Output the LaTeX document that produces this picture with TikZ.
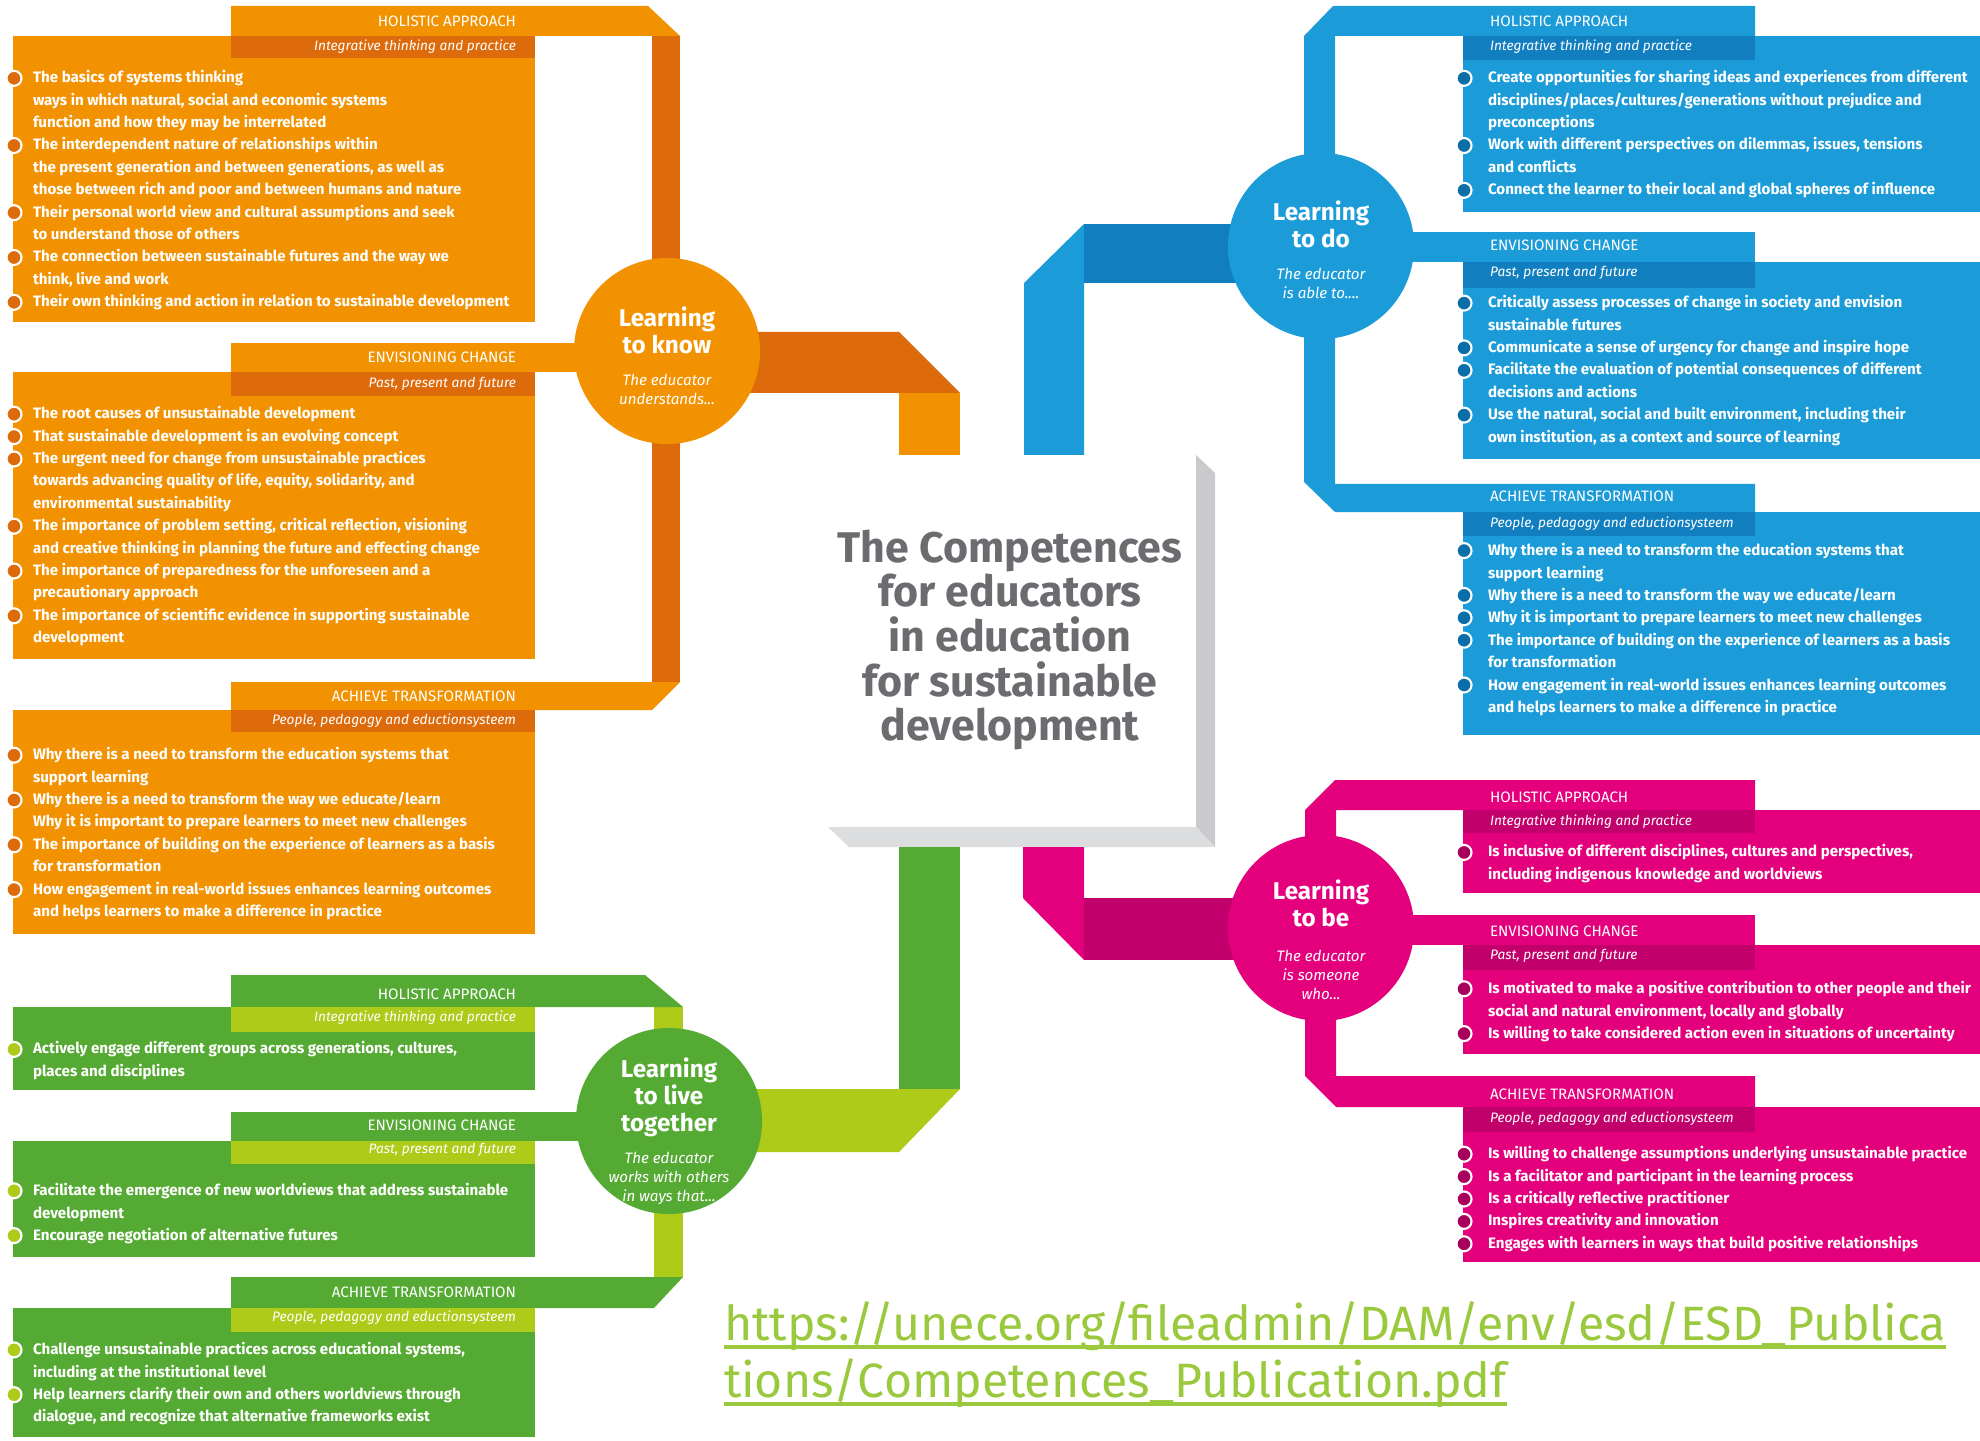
\documentclass[tikz,border=0pt]{standalone}
\usepackage{fontspec}
\usepackage{tikz}

\newfontfamily\fira{Fira Sans}
\newfontfamily\firaurl{Fira Sans}

\definecolor{knowA}{HTML}{F39200}
\definecolor{knowB}{HTML}{DD6A0B}
\definecolor{doA}{HTML}{1B9CD9}
\definecolor{doB}{HTML}{117FBF}
\definecolor{doC}{HTML}{0C6EA8}
\definecolor{beA}{HTML}{E4007D}
\definecolor{beB}{HTML}{C2006C}
\definecolor{beC}{HTML}{A8005D}
\definecolor{liveA}{HTML}{55AA33}
\definecolor{liveB}{HTML}{AECB1A}
\definecolor{boxgrayA}{HTML}{C9CACC}
\definecolor{boxgrayB}{HTML}{DCDDDF}
\definecolor{titlegray}{HTML}{6B6C6F}
\definecolor{urlgreen}{HTML}{9BC93E}

\begin{document}
\begin{tikzpicture}[x=0.01cm, y=-0.01cm,
  every node/.style = {inner sep=0pt, outer sep=0pt},
  hub/.style = {circle, minimum size=1.86cm},
  hubhead/.style = {align=center, text=white, font=\fira\bfseries\fontsize{6.9}{7.7}\selectfont},
  hubsub/.style = {align=center, text=white, font=\fira\itshape\fontsize{4.3}{5.4}\selectfont},
  bandhead/.style = {text=white, font=\fira\fontsize{4.3}{5}\selectfont},
  bandsub/.style = {text=white, font=\fira\itshape\fontsize{3.9}{5}\selectfont},
  listtext/.style = {anchor=north west, align=left, text=white, font=\fira\bfseries\fontsize{4.3}{6.37}\selectfont},
  bul/.style = {circle, minimum size=0.15cm, draw=white, line width=0.6pt},
  titletext/.style = {align=center, text=titlegray, font=\fira\bfseries\fontsize{12.2}{12.66}\selectfont},
  urltext/.style = {anchor=base west, text=urlgreen, font=\firaurl\fontsize{13.7}{16}\selectfont}
]
\useasboundingbox (0,0) rectangle (1980,1440);
\fill[white] (0,0) rectangle (1980,1440);

% centre box
\fill[boxgrayA] (1196,455) -- (1215,473) -- (1215,847) -- (1196,827) -- cycle;
\fill[boxgrayB] (828,827) -- (1196,827) -- (1215,847) -- (849,847) -- cycle;
\node[titletext] (comp) at (1010,640) {The Competences\\for educators\\in education\\for sustainable\\development};

% learning to know
\fill[knowB] (667,332) -- (899,332) -- (960,393) -- (667,393) -- cycle;
\fill[knowA] (899,393) rectangle (960,455);
\fill[knowB] (652,36) rectangle (680,682);
\fill[knowA] (231,6) -- (648,6) -- (680,36) -- (231,36) -- cycle;
\fill[knowA] (231,343) rectangle (620,372);
\fill[knowA] (231,682) -- (680,682) -- (652,710) -- (231,710) -- cycle;
\fill[knowA] (13,36) rectangle (535,322);
\fill[knowA] (13,372) rectangle (535,659);
\fill[knowA] (13,710) rectangle (535,934);
\fill[knowB] (231,36) rectangle (535,58);
\fill[knowB] (231,372) rectangle (535,396);
\fill[knowB] (231,710) rectangle (535,732);
\node[hub, fill=knowA] (know) at (667,351) {};
\node[hubhead] (knowh) at (667,330) {Learning\\to know};
\node[hubsub] (knows) at (667,389) {The educator\\understands...};

\node[bandhead, anchor=east] (kh1) at (516,21) {HOLISTIC APPROACH};
\node[bandsub, anchor=east] (ks1) at (516,47) {Integrative thinking and practice};
\node[bandhead, anchor=east] (kh2) at (516,357) {ENVISIONING CHANGE};
\node[bandsub, anchor=east] (ks2) at (516,384) {Past, present and future};
\node[bandhead, anchor=east] (kh3) at (516,696) {ACHIEVE TRANSFORMATION};
\node[bandsub, anchor=east] (ks3) at (516,721) {People, pedagogy and eductionsysteem};

\node[listtext] (kt1) at (33,67) {\strut The basics of systems thinking\\
ways in which natural, social and economic systems\\
function and how they may be interrelated\\
The interdependent nature of relationships within\\
the present generation and between generations, as well as\\
those between rich and poor and between humans and nature\\
Their personal world view and cultural assumptions and seek\\
to understand those of others\\
The connection between sustainable futures and the way we\\
think, live and work\\
Their own thinking and action in relation to sustainable development};
\node[listtext] (kt2) at (33,403) {\strut The root causes of unsustainable development\\
That sustainable development is an evolving concept\\
The urgent need for change from unsustainable practices\\
towards advancing quality of life, equity, solidarity, and\\
environmental sustainability\\
The importance of problem setting, critical reflection, visioning\\
and creative thinking in planning the future and effecting change\\
The importance of preparedness for the unforeseen and a\\
precautionary approach\\
The importance of scientific evidence in supporting sustainable\\
development};
\node[listtext] (kt3) at (33,744) {\strut Why there is a need to transform the education systems that\\
support learning\\
Why there is a need to transform the way we educate/learn\\
Why it is important to prepare learners to meet new challenges\\
The importance of building on the experience of learners as a basis\\
for transformation\\
How engagement in real-world issues enhances learning outcomes\\
and helps learners to make a difference in practice};
\foreach \n in {0,3,6,8,10} \node[bul, fill=knowB] (kb1-\n) at (14,{78.3+22.4*\n}) {};
\foreach \n in {0,1,2,5,7,9} \node[bul, fill=knowB] (kb2-\n) at (14,{414.2+22.4*\n}) {};
\foreach \n in {0,2,4,6} \node[bul, fill=knowB] (kb3-\n) at (14,{755.2+22.4*\n}) {};

% learning to live together
\fill[liveA] (899,847) rectangle (960,1089);
\fill[liveB] (669,1089) -- (960,1089) -- (899,1152) -- (669,1152) -- cycle;
\fill[liveB] (654,1007) rectangle (683,1277);
\fill[liveA] (231,975) -- (645,975) -- (683,1007) -- (231,1007) -- cycle;
\fill[liveA] (231,1112) rectangle (620,1141);
\fill[liveA] (231,1277) -- (683,1277) -- (654,1308) -- (231,1308) -- cycle;
\fill[liveA] (13,1007) rectangle (535,1090);
\fill[liveA] (13,1141) rectangle (535,1257);
\fill[liveA] (13,1308) rectangle (535,1437);
\fill[liveB] (231,1007) rectangle (535,1032);
\fill[liveB] (231,1141) rectangle (535,1164);
\fill[liveB] (231,1308) rectangle (535,1332);
\node[hub, fill=liveA] (live) at (669,1121) {};
\node[hubhead] (liveh) at (669,1097) {Learning\\to live\\together};
\node[hubsub] (lives) at (669,1178) {The educator\\works with others\\in ways that...};

\node[bandhead, anchor=east] (lh1) at (516,994) {HOLISTIC APPROACH};
\node[bandsub, anchor=east] (ls1) at (516,1018) {Integrative thinking and practice};
\node[bandhead, anchor=east] (lh2) at (516,1125) {ENVISIONING CHANGE};
\node[bandsub, anchor=east] (ls2) at (516,1150) {Past, present and future};
\node[bandhead, anchor=east] (lh3) at (516,1292) {ACHIEVE TRANSFORMATION};
\node[bandsub, anchor=east] (ls3) at (516,1318) {People, pedagogy and eductionsysteem};

\node[listtext] (lt1) at (33,1038) {\strut Actively engage different groups across generations, cultures,\\
places and disciplines};
\node[listtext] (lt2) at (33,1180) {\strut Facilitate the emergence of new worldviews that address sustainable\\
development\\
Encourage negotiation of alternative futures};
\node[listtext] (lt3) at (33,1339) {\strut Challenge unsustainable practices across educational systems,\\
including at the institutional level\\
Help learners clarify their own and others worldviews through\\
dialogue, and recognize that alternative frameworks exist};
\foreach \n in {0} \node[bul, fill=liveB] (lb1-\n) at (14,{1049.4+22.4*\n}) {};
\foreach \n in {0,2} \node[bul, fill=liveB] (lb2-\n) at (14,{1190.8+22.4*\n}) {};
\foreach \n in {0,2} \node[bul, fill=liveB] (lb3-\n) at (14,{1349.9+22.4*\n}) {};

% learning to do
\fill[doA] (1024,455) -- (1024,283) -- (1084,224) -- (1084,455) -- cycle;
\fill[doB] (1084,224) rectangle (1321,283);
\fill[doA] (1333,6) -- (1755,6) -- (1755,36) -- (1335,36) -- (1335,484) -- (1755,484)
  -- (1755,512) -- (1335,512) -- (1304,482) -- (1304,36) -- cycle;
\fill[doA] (1400,232) rectangle (1755,262);
\fill[doA] (1463,36) rectangle (1980,212);
\fill[doA] (1463,262) rectangle (1980,459);
\fill[doA] (1463,512) rectangle (1980,735);
\fill[doB] (1463,36) rectangle (1755,60);
\fill[doB] (1463,262) rectangle (1755,288);
\fill[doB] (1463,512) rectangle (1755,536);
\node[hub, fill=doA] (do) at (1321,246) {};
\node[hubhead] (doh) at (1321,224) {Learning\\to do};
\node[hubsub] (dos) at (1321,283) {The educator\\is able to....};

\node[bandhead, anchor=west] (dh1) at (1490,21) {HOLISTIC APPROACH};
\node[bandsub, anchor=west] (ds1) at (1490,47) {Integrative thinking and practice};
\node[bandhead, anchor=west] (dh2) at (1490,245) {ENVISIONING CHANGE};
\node[bandsub, anchor=west] (ds2) at (1490,273) {Past, present and future};
\node[bandhead, anchor=west] (dh3) at (1490,496) {ACHIEVE TRANSFORMATION};
\node[bandsub, anchor=west] (ds3) at (1490,524) {People, pedagogy and eductionsysteem};

\node[listtext] (dt1) at (1488,67) {\strut Create opportunities for sharing ideas and experiences from different\\
disciplines/places/cultures/generations without prejudice and\\
preconceptions\\
Work with different perspectives on dilemmas, issues, tensions\\
and conflicts\\
Connect the learner to their local and global spheres of influence};
\node[listtext] (dt2) at (1488,292) {\strut Critically assess processes of change in society and envision\\
sustainable futures\\
Communicate a sense of urgency for change and inspire hope\\
Facilitate the evaluation of potential consequences of different\\
decisions and actions\\
Use the natural, social and built environment, including their\\
own institution, as a context and source of learning};
\node[listtext] (dt3) at (1488,540) {\strut Why there is a need to transform the education systems that\\
support learning\\
Why there is a need to transform the way we educate/learn\\
Why it is important to prepare learners to meet new challenges\\
The importance of building on the experience of learners as a basis\\
for transformation\\
How engagement in real-world issues enhances learning outcomes\\
and helps learners to make a difference in practice};
\foreach \n in {0,3,5} \node[bul, fill=doC] (db1-\n) at (1464,{78.3+22.4*\n}) {};
\foreach \n in {0,2,3,5} \node[bul, fill=doC] (db2-\n) at (1464,{303.1+22.4*\n}) {};
\foreach \n in {0,2,3,4,6} \node[bul, fill=doC] (db3-\n) at (1464,{550.6+22.4*\n}) {};

% learning to be
\fill[beA] (1023,847) -- (1084,847) -- (1084,960) -- (1023,898) -- cycle;
\fill[beB] (1084,898) rectangle (1321,960);
\fill[beA] (1335,780) -- (1755,780) -- (1755,810) -- (1336,810) -- (1336,1076) -- (1755,1076)
  -- (1755,1107) -- (1336,1107) -- (1305,1076) -- (1305,810) -- cycle;
\fill[beA] (1400,915) rectangle (1755,945);
\fill[beA] (1463,810) rectangle (1980,893);
\fill[beA] (1463,945) rectangle (1980,1054);
\fill[beA] (1463,1107) rectangle (1980,1262);
\fill[beB] (1463,810) rectangle (1755,833);
\fill[beB] (1463,945) rectangle (1755,970);
\fill[beB] (1463,1107) rectangle (1755,1132);
\node[hub, fill=beA] (be) at (1321,928) {};
\node[hubhead] (beh) at (1321,903) {Learning\\to be};
\node[hubsub] (bes) at (1321,975) {The educator\\is someone\\who...};

\node[bandhead, anchor=west] (bh1) at (1490,797) {HOLISTIC APPROACH};
\node[bandsub, anchor=west] (bs1) at (1490,822) {Integrative thinking and practice};
\node[bandhead, anchor=west] (bh2) at (1490,931) {ENVISIONING CHANGE};
\node[bandsub, anchor=west] (bs2) at (1490,956) {Past, present and future};
\node[bandhead, anchor=west] (bh3) at (1490,1094) {ACHIEVE TRANSFORMATION};
\node[bandsub, anchor=west] (bs3) at (1490,1119) {People, pedagogy and eductionsysteem};

\node[listtext] (bt1) at (1488,841) {\strut Is inclusive of different disciplines, cultures and perspectives,\\
including indigenous knowledge and worldviews};
\node[listtext] (bt2) at (1488,978) {\strut Is motivated to make a positive contribution to other people and their\\
social and natural environment, locally and globally\\
Is willing to take considered action even in situations of uncertainty};
\node[listtext] (bt3) at (1488,1143) {\strut Is willing to challenge assumptions underlying unsustainable practice\\
Is a facilitator and participant in the learning process\\
Is a critically reflective practitioner\\
Inspires creativity and innovation\\
Engages with learners in ways that build positive relationships};
\foreach \n in {0} \node[bul, fill=beC] (bb1-\n) at (1464,{852.4+22.4*\n}) {};
\foreach \n in {0,2} \node[bul, fill=beC] (bb2-\n) at (1464,{988.8+22.4*\n}) {};
\foreach \n in {0,1,2,3,4} \node[bul, fill=beC] (bb3-\n) at (1464,{1154.2+22.4*\n}) {};

% source
\node[urltext] (url1) at (724,1340) {https://unece.org/fileadmin/DAM/env/esd/ESD\_Publica};
\node[urltext] (url2) at (724,1397) {tions/Competences\_Publication.pdf};
\draw[urlgreen, line width=1.1pt] ([yshift=-2pt]url1.base west) -- ([yshift=-2pt]url1.base east);
\draw[urlgreen, line width=1.1pt] ([yshift=-2pt]url2.base west) -- ([yshift=-2pt]url2.base east);
\end{tikzpicture}
\end{document}
